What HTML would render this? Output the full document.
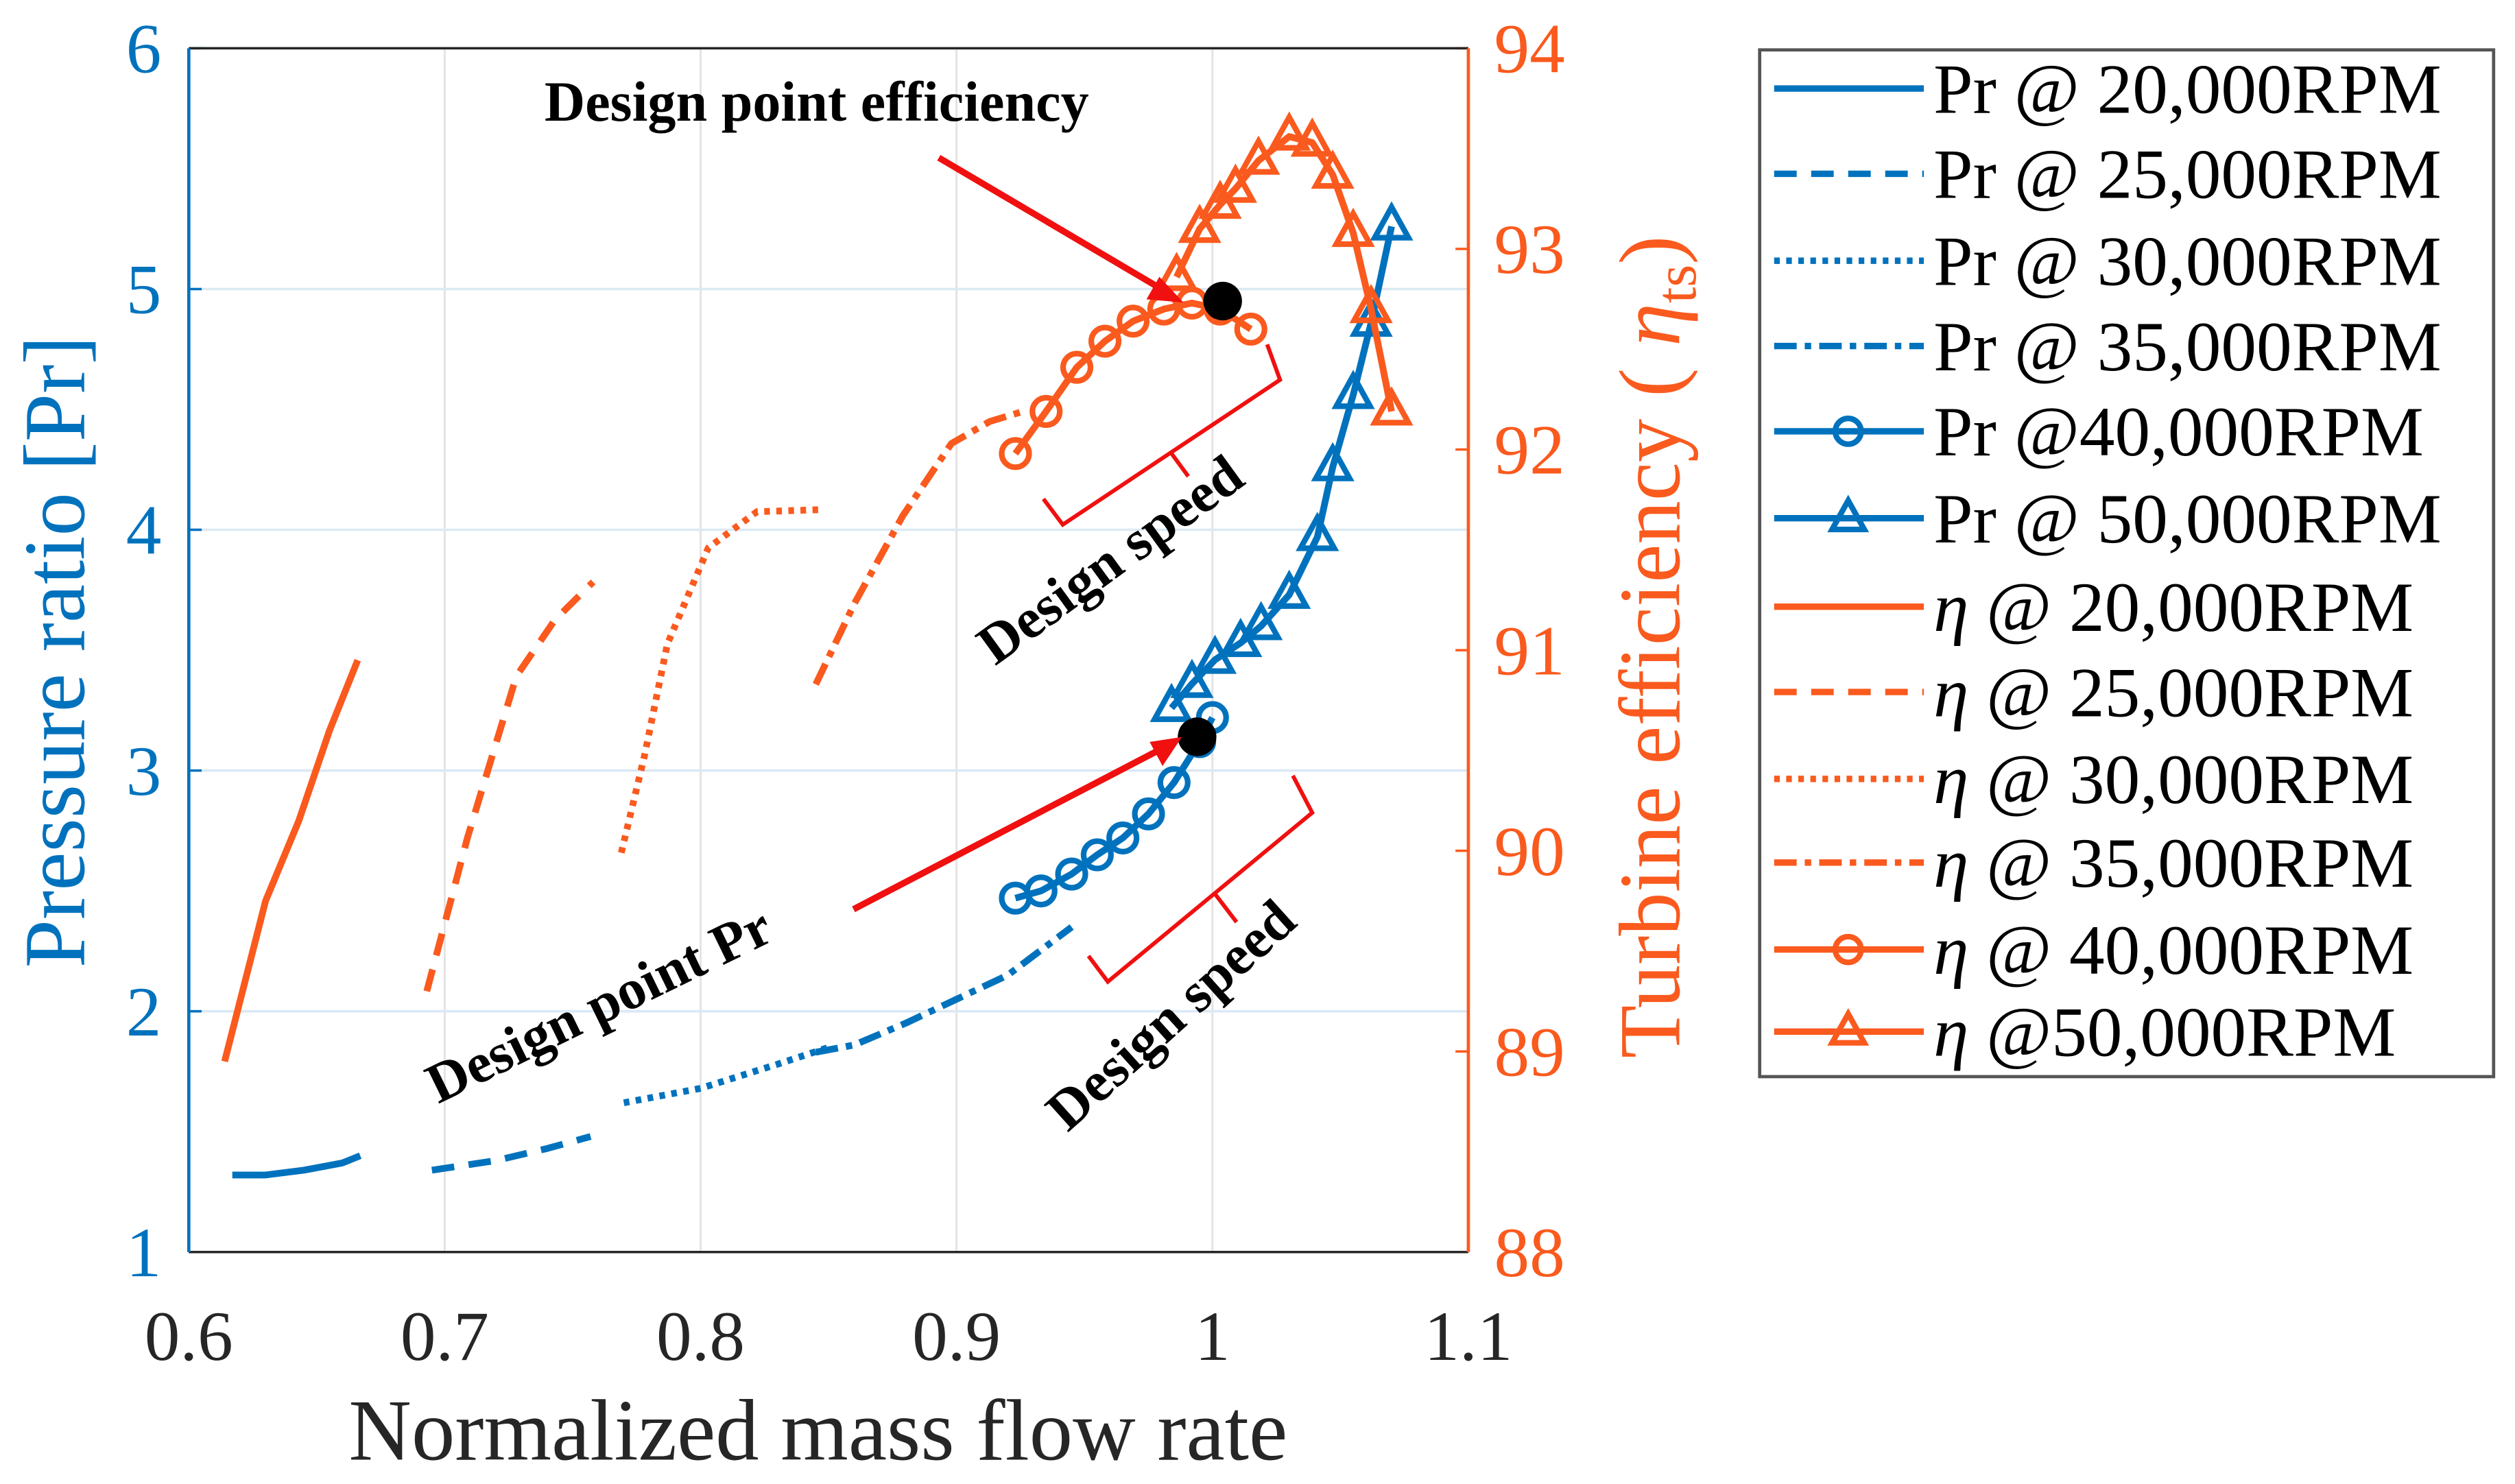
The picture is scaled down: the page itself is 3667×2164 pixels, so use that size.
<!DOCTYPE html>
<html><head><meta charset="utf-8"><style>
html,body{margin:0;padding:0;background:#fff;}
svg, svg text{font-family:"Liberation Serif","Times New Roman",serif;}
</style></head><body>
<svg id="chart" width="3667" height="2159" viewBox="0 0 1562 920" font-family="Liberation Serif, serif" xmlns="http://www.w3.org/2000/svg">
<g id="grid"></g>
<g id="marks"></g>
<g id="axes"></g>
<g id="annot">
 <text x="338" y="75" font-size="35" font-weight="bold">Design point efficiency</text>
 <line x1="583" y1="98" x2="722" y2="180" stroke="#f01010" stroke-width="4"/>
 <polygon points="735,188 712,186 720,172" fill="#f01010"/>
 <line x1="530" y1="565" x2="720" y2="466" stroke="#f01010" stroke-width="4"/>
 <polygon points="734,458 722,476 714,461" fill="#f01010"/>
 <text transform="translate(272,686) rotate(-26)" font-size="35" font-weight="bold">Design point Pr</text>
 <polyline points="648,310 660,326 795,236 787,214" fill="none" stroke="#f01010" stroke-width="2.5"/>
 <polyline points="727,281 738,296" fill="none" stroke="#f01010" stroke-width="2.5"/>
 <text transform="translate(618,414) rotate(-36)" font-size="35" font-weight="bold">Design speed</text>
 <polyline points="676,594 688,610 815,505 803,482" fill="none" stroke="#f01010" stroke-width="2.5"/>
 <polyline points="755,556 768,573" fill="none" stroke="#f01010" stroke-width="2.5"/>
 <text transform="translate(663,704) rotate(-42)" font-size="35" font-weight="bold">Design speed</text>
</g>
<g id="legend"></g>
</svg>
<script>
const NS="http://www.w3.org/2000/svg";
const BLUE="#0072bd", ORANGE="#fa5a1e";
// ---- data ----
const xTicks=[0.6,0.7,0.8,0.9,1,1.1];
const xTickLabels=["0.6","0.7","0.8","0.9","1","1.1"];
const prTicks=[1,2,3,4,5,6];
const etaTicks=[88,89,90,91,92,93,94];
const pr20X=[0.617,0.63,0.645,0.66,0.667];
const pr20Y=[1.32,1.32,1.34,1.37,1.40];
const pr25X=[0.695,0.72,0.74,0.757];
const pr25Y=[1.34,1.38,1.43,1.48];
const pr30X=[0.77,0.80,0.83,0.85];
const pr30Y=[1.62,1.68,1.78,1.85];
const pr35X=[0.845,0.86,0.88,0.90,0.92,0.945];
const pr35Y=[1.83,1.86,1.95,2.05,2.15,2.35];
const pr40X=[0.923,0.933,0.945,0.955,0.965,0.975,0.985,0.995,1.0];
const pr40Y=[2.47,2.50,2.57,2.65,2.72,2.82,2.95,3.12,3.22];
const pr50X=[0.984,0.992,1.001,1.011,1.019,1.03,1.041,1.047,1.055,1.062,1.07];
const pr50Y=[3.26,3.36,3.46,3.53,3.60,3.73,3.97,4.26,4.56,4.86,5.26];
const eta20X=[0.614,0.630,0.643,0.655,0.666];
const eta20Y=[88.95,89.75,90.15,90.6,90.95];
const eta25X=[0.693,0.709,0.728,0.743,0.758];
const eta25Y=[89.3,90.07,90.87,91.15,91.34];
const eta30X=[0.769,0.778,0.787,0.803,0.822,0.846];
const eta30Y=[89.99,90.47,91.03,91.51,91.69,91.70];
const eta35X=[0.845,0.86,0.879,0.898,0.913,0.926];
const eta35Y=[90.83,91.23,91.67,92.03,92.14,92.19];
const eta40X=[0.923,0.935,0.947,0.958,0.969,0.981,0.992,1.003,1.015];
const eta40Y=[91.98,92.19,92.41,92.54,92.64,92.70,92.73,92.70,92.60];
const eta50X=[0.986,0.995,1.003,1.009,1.018,1.03,1.039,1.047,1.055,1.062,1.07];
const eta50Y=[92.86,93.10,93.22,93.30,93.44,93.56,93.53,93.37,93.08,92.70,92.19];
const designEtaPoint=[1.004,92.74];
const designPrPoint=[0.994,3.14];
const legendLabels=["Pr @ 20,000RPM","Pr @ 25,000RPM","Pr  @ 30,000RPM","Pr  @ 35,000RPM","Pr  @40,000RPM","Pr  @ 50,000RPM",
 "η @ 20,000RPM","η @ 25,000RPM","η @ 30,000RPM","η @ 35,000RPM","η @ 40,000RPM","η @50,000RPM"];
// ---- axes ----
const L=117,R=912,T=30,B=778;
const FF="Liberation Serif, serif";
const sx=v=>L+(v-0.6)/0.5*(R-L);
const sy=v=>B-(v-1)/5*(B-T);
const se=v=>B-(v-88)/6*(B-T);
function mk(tag,attrs,parent){const e=document.createElementNS(NS,tag);for(const k in attrs)e.setAttribute(k,attrs[k]);if(tag==='text')e.setAttribute('font-family',FF);parent.appendChild(e);return e;}
const grid=document.getElementById('grid'),axes=document.getElementById('axes'),marks=document.getElementById('marks'),leg=document.getElementById('legend');
xTicks.forEach((v,i)=>{
 const g=mk('line',{x1:sx(v),x2:sx(v),y1:T,y2:B,stroke:'#e2e2e2','stroke-width':1.2},grid);
 
 
 const t=mk('text',{x:sx(v),y:845,'text-anchor':'middle','font-size':44,fill:'#262626'},axes);
 t.textContent=xTickLabels[i];
 
 
});
prTicks.forEach(v=>{
 const g=mk('line',{x1:L,x2:R,y1:sy(v),y2:sy(v),stroke:'#dbe9f4','stroke-width':1.5},grid);
 
 
 const t=mk('text',{x:100,y:sy(v)+15,'text-anchor':'end','font-size':44,fill:BLUE},axes);
 t.textContent=String(v);
 
 
 const tk=mk('line',{x1:L,x2:L+8,y1:sy(v),y2:sy(v),stroke:BLUE,'stroke-width':1.5},axes);
 
 
});
etaTicks.forEach(v=>{
 const t=mk('text',{x:928,y:se(v)+15,'font-size':44,fill:ORANGE},axes);
 t.textContent=String(v);
 
 
 const tk=mk('line',{x1:R-8,x2:R,y1:se(v),y2:se(v),stroke:ORANGE,'stroke-width':1.5},axes);
 
 
});
let a;
a=mk('line',{x1:L,x2:R,y1:B,y2:B,stroke:'#262626','stroke-width':1.5},axes);


a=mk('line',{x1:L,x2:R,y1:T,y2:T,stroke:'#262626','stroke-width':1.5},axes);


a=mk('line',{x1:L,x2:L,y1:T,y2:B,stroke:BLUE,'stroke-width':2},axes);


a=mk('line',{x1:R,x2:R,y1:T,y2:B,stroke:ORANGE,'stroke-width':2},axes);


a=mk('text',{x:508,y:907,'text-anchor':'middle','font-size':54,fill:'#262626'},axes);
a.textContent='Normalized mass flow rate';


a=mk('text',{transform:'translate(52,405) rotate(-90)','text-anchor':'middle','font-size':54,fill:BLUE},axes);
a.textContent='Pressure ratio [Pr]';


a=mk('text',{transform:'translate(1043,402) rotate(-90)','text-anchor':'middle','font-size':54,fill:ORANGE},axes);
a.innerHTML='Turbine efficiency ( <tspan font-style="italic">η</tspan><tspan font-size="36" dy="10">ts</tspan><tspan dy="-10">)</tspan>';


// ---- series ----
const DASH={solid:'',dash:'14 9',dot:'3.5 4',dashdot:'14 5 4 5'};
function series(xs,ys,yf,color,style,marker,name){
 const pts=xs.map((x,i)=>sx(x)+','+yf(ys[i])).join(' ');
 const p=mk('polyline',{points:pts,fill:'none',stroke:color,'stroke-width':4.2,'stroke-dasharray':DASH[style],'stroke-linejoin':'round'},marks);
 
 
 xs.forEach((x,i)=>{
  const X=sx(x),Y=yf(ys[i]);let m=null;
  if(marker==='o') m=mk('circle',{cx:X,cy:Y,r:8.5,fill:'none',stroke:color,'stroke-width':3.5},marks);
  if(marker==='^') m=mk('polygon',{points:`${X},${Y-12} ${X-10.5},${Y+7} ${X+10.5},${Y+7}`,fill:'none',stroke:color,'stroke-width':3.5},marks);
  if(m){
  }
 });
}
series(pr20X,pr20Y,sy,BLUE,'solid',null,'pr-20000');
series(pr25X,pr25Y,sy,BLUE,'dash',null,'pr-25000');
series(pr30X,pr30Y,sy,BLUE,'dot',null,'pr-30000');
series(pr35X,pr35Y,sy,BLUE,'dashdot',null,'pr-35000');
series(pr40X,pr40Y,sy,BLUE,'solid','o','pr-40000');
series(pr50X,pr50Y,sy,BLUE,'solid','^','pr-50000');
series(eta20X,eta20Y,se,ORANGE,'solid',null,'eta-20000');
series(eta25X,eta25Y,se,ORANGE,'dash',null,'eta-25000');
series(eta30X,eta30Y,se,ORANGE,'dot',null,'eta-30000');
series(eta35X,eta35Y,se,ORANGE,'dashdot',null,'eta-35000');
series(eta40X,eta40Y,se,ORANGE,'solid','o','eta-40000');
series(eta50X,eta50Y,se,ORANGE,'solid','^','eta-50000');
a=mk('circle',{cx:sx(designEtaPoint[0]),cy:se(designEtaPoint[1]),r:12,fill:'#000'},marks);


a=mk('circle',{cx:sx(designPrPoint[0]),cy:sy(designPrPoint[1]),r:12,fill:'#000'},marks);


// ---- legend ----
a=mk('rect',{x:1093,y:31,width:456,height:638,fill:'#fff',stroke:'#555','stroke-width':2},leg);


const styles=['solid','dash','dot','dashdot','solid','solid'];
const mks=[null,null,null,null,'o','^'];
const rowY=[55,108,162,215,268,322,377,430,484,536,590,641];
legendLabels.forEach((lab,i)=>{
 const y=rowY[i],c=i<6?BLUE:ORANGE,st=styles[i%6],mkr=mks[i%6];
 const ln=mk('line',{x1:1102,x2:1195,y1:y,y2:y,stroke:c,'stroke-width':4,'stroke-dasharray':DASH[st]},leg);
 
 
 if(mkr==='o'){const m=mk('circle',{cx:1148,cy:y,r:8,fill:'none',stroke:c,'stroke-width':3.5},leg);
  
  }
 if(mkr==='^'){const m=mk('polygon',{points:`1148,${y-11} 1138,${y+7} 1158,${y+7}`,fill:'none',stroke:c,'stroke-width':3.5},leg);
  
  }
 const t=mk('text',{x:1201,y:y+15,'font-size':44,fill:'#000','xml:space':'preserve'},leg);
 if(i<6) t.textContent=lab;
 else t.innerHTML='<tspan font-style="italic">η</tspan>'+lab.slice(1);
 
 
});
</script>
</body></html>
